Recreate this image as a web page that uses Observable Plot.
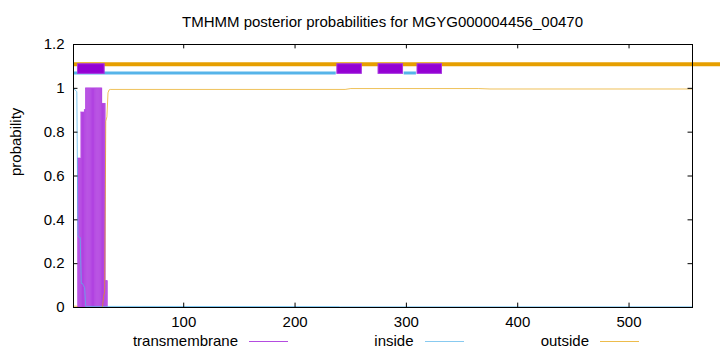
<!DOCTYPE html>
<html><head><meta charset="utf-8">
<script src="https://cdn.jsdelivr.net/npm/d3@7"></script>
<script src="https://cdn.jsdelivr.net/npm/@observablehq/plot@0.6"></script>
<style>
body{margin:0;background:#fff;font-family:"Liberation Sans",Arial,Helvetica,sans-serif;}
#chart{width:720px;height:352px;position:relative;overflow:hidden;background:#fff}
#title{height:30px;box-sizing:border-box;padding:13px 28px 0 73px;text-align:center;font-size:15px;line-height:17px;color:#000;white-space:nowrap}
#legend{position:relative;height:22px;font-size:15px;line-height:17px;color:#000}
#legend .lab{position:absolute;top:2px;white-space:nowrap;text-align:right}
#legend .sw{position:absolute;top:11px;height:0;width:39px}
svg{display:block}
</style></head>
<body>
<div id="chart">
  <div id="title">TMHMM posterior probabilities for MGYG000004456_00470</div>
  <div id="plot"></div>
  <div id="legend"></div>
</div>
<script>
// ---- data ----
const seqLength = 557;
const xTicks = [100, 200, 300, 400, 500];
const yTicks = [0, 0.2, 0.4, 0.6, 0.8, 1, 1.2];

// transmembrane posterior (per residue)
const tmRes  = [5,6,7,8,9,10,11,12,13,14,15,16,17,18,19,20,21,22,23,24,25,26,27,28,29,30,31];
const tmProb = [0.68,0.68,0.68,0.89,0.89,0.89,0.9,1,1,1,1,1,1,1,1,1,1,1,1,1,1,1,0.93,0.93,0.93,0.12,0.12];

// inside posterior
const inRes  = [1,4,5,6,7,8,9,10,11,12,240,241,557];
const inProb = [1.0,0.985,0.33,0.32,0.32,0.11,0.11,0.1,0.09,0.005,0.004,0.003,0.003];

// outside posterior
const outRes  = [1,4,5,27,28,29,30,31,32,33,34,245,250,365,375,557];
const outProb = [0.006,0.006,0.0,0.0,0.05,0.07,0.85,0.87,0.98,0.993,0.995,0.995,0.999,0.999,0.997,0.997];

// predicted topology (top strip)
const outsideSegStart = [1],   outsideSegEnd = [585];
const insideSegStart  = [1, 298], insideSegEnd = [237, 309];
const tmSegStart = [5, 238, 275, 310], tmSegEnd = [29, 260, 297, 332];
const outsideLevel = 1.11, insideLevel = 1.07, tmBoxLow = 1.066, tmBoxHigh = 1.11;

const legendLabels = ["transmembrane", "inside", "outside"];
const colTM = "#9400d3", colIn = "#56b4e9", colOut = "#e69f00";
const legendColors = [colTM, colIn, colOut];

// ---- build tables ----
const tm = tmRes.map((r, i) => ({r, p: tmProb[i]}));
const ins = inRes.map((r, i) => ({r, p: inProb[i]}));
const outs = outRes.map((r, i) => ({r, p: outProb[i]}));
const outSegs = outsideSegStart.map((s, i) => ({s, e: outsideSegEnd[i]}));
const inSegs = insideSegStart.map((s, i) => ({s, e: insideSegEnd[i]}));
const tmSegs = tmSegStart.map((s, i) => ({s, e: tmSegEnd[i]}));
const xTickLen = 4, yTickLen = 0.02;

const chart = Plot.plot({
  width: 720, height: 300,
  marginTop: 14, marginBottom: 23, marginLeft: 73, marginRight: 28,
  style: {fontFamily: "'Liberation Sans', Arial, Helvetica, sans-serif", fontSize: "15px", color: "#000", background: "#fff"},
  x: {domain: [1, seqLength]},
  y: {domain: [0, 1.2]},
  marks: [
    // TM posterior as filled boxes
    Plot.rect(tm, {x1: d => d.r, x2: d => d.r + 1, y1: 0, y2: d => d.p, fill: "#b040e0", stroke: "#b548e2", strokeWidth: 0.4}),
    Plot.line(ins, {x: "r", y: "p", stroke: colIn, strokeWidth: 1, strokeOpacity: 0.75}),
    Plot.line(outs, {x: "r", y: "p", stroke: colOut, strokeWidth: 1, strokeOpacity: 0.65}),
    // topology strip
    Plot.ruleY(outSegs, {y: () => outsideLevel, x1: "s", x2: "e", stroke: colOut, strokeWidth: 4}),
    Plot.ruleY(inSegs, {y: () => insideLevel, x1: "s", x2: "e", stroke: colIn, strokeWidth: 3}),
    Plot.rect(tmSegs, {x1: "s", x2: "e", y1: () => tmBoxLow, y2: () => tmBoxHigh, fill: colTM, stroke: "#a838e0", strokeWidth: 1}),
    // inward ticks (mirrored)
    Plot.ruleX(xTicks, {y1: 0, y2: yTickLen, stroke: "#000"}),
    Plot.ruleX(xTicks, {y1: 1.2 - yTickLen, y2: 1.2, stroke: "#000"}),
    Plot.ruleY(yTicks, {x1: 1, x2: 1 + xTickLen, stroke: "#000"}),
    Plot.ruleY(yTicks, {x1: seqLength - xTickLen, x2: seqLength, stroke: "#000"}),
    Plot.axisX({ticks: xTicks, tickSize: 0, tickPadding: 9, label: null}),
    Plot.axisY({ticks: yTicks, tickSize: 0, tickPadding: 9, label: null, tickFormat: d => String(d)}),
    Plot.text(["probability"], {frameAnchor: "left", dx: -57, rotate: -90, fontSize: 15, fill: "#000"}),
    Plot.frame({stroke: "#000", strokeWidth: 1})
  ]
});
document.getElementById("plot").appendChild(chart);

// legend below the plot
const leg = document.getElementById("legend");
legendLabels.forEach((lab, i) => {
  const textEnd = 238 + 175.5 * i;
  const t = document.createElement("div");
  t.className = "lab";
  t.style.right = (720 - textEnd) + "px";
  t.textContent = lab;
  leg.appendChild(t);
  const s = document.createElement("div");
  s.className = "sw";
  s.style.left = (textEnd + 11) + "px";
  s.style.borderTop = "1px solid " + legendColors[i];
  s.style.opacity = 0.7;
  leg.appendChild(s);
});
</script>
</body></html>
